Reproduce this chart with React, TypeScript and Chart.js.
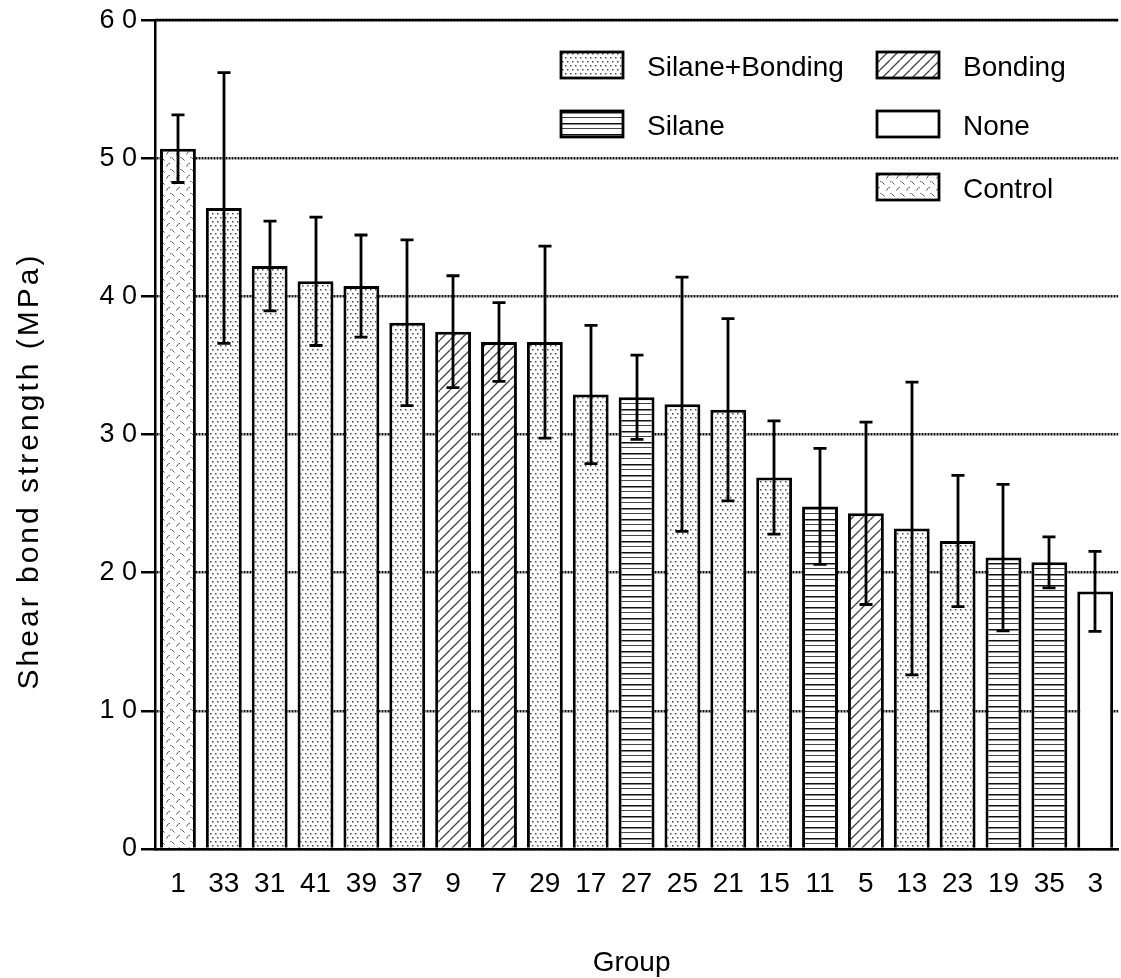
import React, { useEffect, useRef } from 'react';
import { Chart, registerables } from 'chart.js';

Chart.register(...registerables);

const groups = ['1', '33', '31', '41', '39', '37', '9', '7', '29', '17', '27', '25', '21', '15', '11', '5', '13', '23', '19', '35', '3'];
const means = [50.7, 46.4, 42.2, 41.1, 40.75, 38.1, 37.45, 36.7, 36.7, 32.9, 32.7, 32.2, 31.8, 26.9, 24.8, 24.3, 23.2, 22.3, 21.1, 20.75, 18.65];
const sds = [2.45, 9.8, 3.25, 4.65, 3.7, 6.0, 4.05, 2.85, 6.95, 5.0, 3.05, 9.2, 6.6, 4.1, 4.2, 6.6, 10.6, 4.75, 5.3, 1.85, 2.9];
const treatments = [
  'Control', 'Silane+Bonding', 'Silane+Bonding', 'Silane+Bonding', 'Silane+Bonding', 'Silane+Bonding',
  'Bonding', 'Bonding', 'Silane+Bonding', 'Silane+Bonding', 'Silane', 'Silane+Bonding', 'Silane+Bonding',
  'Silane+Bonding', 'Silane', 'Bonding', 'Silane+Bonding', 'Silane+Bonding', 'Silane', 'Silane', 'None',
];
const legendLabels = ['Silane+Bonding', 'Bonding', 'Silane', 'None', 'Control'];
const yMin = 0;
const yMax = 60;
const yStep = 10;
const yTitle = 'Shear bond strength (MPa)';
const xTitle = 'Group';

const FONT = "'Liberation Sans', Arial, Helvetica, sans-serif";

function makePattern(kind: string): CanvasPattern | string {
  if (kind === 'None') return '#ffffff';
  const c = document.createElement('canvas');
  const ctx = c.getContext('2d') as CanvasRenderingContext2D;
  if (kind === 'Silane+Bonding') {
    c.width = 5; c.height = 8;
    ctx.fillStyle = '#fff'; ctx.fillRect(0, 0, 5, 8);
    const dot = (x: number, y: number) => {
      ctx.fillStyle = '#444'; ctx.fillRect(x, y, 1, 1);
      ctx.fillStyle = '#aaa'; ctx.fillRect(x + 1, y, 1, 1); ctx.fillRect(x, y + 1, 1, 1);
      ctx.fillStyle = '#ccc'; ctx.fillRect(x + 1, y + 1, 1, 1);
    };
    dot(0, 1);
    dot(2, 5);
  } else if (kind === 'Bonding') {
    c.width = 10; c.height = 10;
    ctx.fillStyle = '#fff'; ctx.fillRect(0, 0, 10, 10);
    ctx.strokeStyle = '#444'; ctx.lineWidth = 1.3;
    for (let k = -1; k <= 1; k++) {
      ctx.beginPath();
      ctx.moveTo(k * 10, 10);
      ctx.lineTo(k * 10 + 10, 0);
      ctx.stroke();
    }
  } else if (kind === 'Silane') {
    c.width = 4; c.height = 11;
    ctx.fillStyle = '#fff'; ctx.fillRect(0, 0, 4, 11);
    ctx.fillStyle = '#111'; ctx.fillRect(0, 2, 4, 1);
    ctx.fillStyle = '#888'; ctx.fillRect(0, 3, 4, 1);
    ctx.fillStyle = '#444'; ctx.fillRect(0, 7, 4, 1);
  } else if (kind === 'Control') {
    c.width = 10; c.height = 12;
    ctx.fillStyle = '#fff'; ctx.fillRect(0, 0, 10, 12);
    ctx.strokeStyle = '#555'; ctx.lineWidth = 1;
    ctx.beginPath();
    ctx.moveTo(1.5, 1.5); ctx.lineTo(4.5, 4.5);
    ctx.stroke();
    ctx.beginPath();
    ctx.moveTo(6.5, 10.5); ctx.lineTo(8.5, 7.5);
    ctx.stroke();
    ctx.fillStyle = '#777';
    ctx.fillRect(0, 1, 1, 1);
    ctx.fillRect(9, 7, 1, 1);
  }
  return ctx.createPattern(c, 'repeat') as CanvasPattern;
}

const legendLayout = [
  { bx: 561, by: 52 },
  { bx: 877, by: 52 },
  { bx: 561, by: 111 },
  { bx: 877, by: 111 },
  { bx: 877, by: 174 },
];

export default function App() {
  const ref = useRef<HTMLCanvasElement | null>(null);

  useEffect(() => {
    document.body.style.margin = '0';
    const canvas = ref.current;
    if (!canvas) return;
    const patterns: Record<string, CanvasPattern | string> = {};
    legendLabels.forEach((l) => { patterns[l] = makePattern(l); });

    const extras = {
      id: 'extras',
      afterDatasetsDraw(chart: any) {
        const ctx = chart.ctx as CanvasRenderingContext2D;
        const yScale = chart.scales.y;
        const meta = chart.getDatasetMeta(0);
        ctx.save();
        ctx.strokeStyle = '#000';
        ctx.lineWidth = 2.8;
        meta.data.forEach((el: any, i: number) => {
          const x = Math.round(el.x);
          const yh = yScale.getPixelForValue(means[i] + sds[i]);
          const yl = yScale.getPixelForValue(means[i] - sds[i]);
          ctx.beginPath();
          ctx.moveTo(x, yh); ctx.lineTo(x, yl);
          ctx.moveTo(x - 6.5, yh); ctx.lineTo(x + 6.5, yh);
          ctx.moveTo(x - 6.5, yl); ctx.lineTo(x + 6.5, yl);
          ctx.stroke();
        });
        ctx.restore();
      },
      afterDraw(chart: any) {
        const ctx = chart.ctx as CanvasRenderingContext2D;
        const area = chart.chartArea;
        const yScale = chart.scales.y;
        ctx.save();
        const yTop = Math.round(yScale.getPixelForValue(yMax));
        ctx.strokeStyle = '#000';
        ctx.lineWidth = 2.5;
        ctx.beginPath();
        ctx.moveTo(area.left, yTop);
        ctx.lineTo(area.right, yTop);
        ctx.stroke();

        legendLabels.forEach((lab, i) => {
          const p = legendLayout[i];
          ctx.fillStyle = patterns[lab] as any;
          ctx.fillRect(p.bx, p.by, 62, 26);
          ctx.strokeStyle = '#000';
          ctx.lineWidth = 2.8;
          ctx.strokeRect(p.bx, p.by, 62, 26);
          ctx.fillStyle = '#000';
          ctx.font = `28px ${FONT}`;
          ctx.textAlign = 'left';
          ctx.textBaseline = 'alphabetic';
          ctx.fillText(lab, p.bx + 86, p.by + 24);
        });

        ctx.font = `28px ${FONT}`;
        ctx.textAlign = 'center';
        ctx.textBaseline = 'alphabetic';
        ctx.fillStyle = '#000';
        ctx.fillText(xTitle, (area.left + area.right) / 2 - 5, 971);

        ctx.translate(38, 471);
        ctx.rotate(-Math.PI / 2);
        ctx.font = `30px ${FONT}`;
        (ctx as any).letterSpacing = '3px';
        ctx.textAlign = 'center';
        ctx.textBaseline = 'alphabetic';
        ctx.fillText(yTitle, 0, 0);
        ctx.restore();
      },
    };

    const chart = new Chart(canvas, {
      type: 'bar',
      data: {
        labels: groups,
        datasets: [
          {
            label: yTitle,
            data: means,
            backgroundColor: treatments.map((t) => patterns[t]) as any,
            borderColor: '#000',
            borderWidth: 3,
            barPercentage: 36 / 46,
            categoryPercentage: 1,
          },
        ],
      },
      options: {
        responsive: false,
        animation: false,
        devicePixelRatio: 1,
        layout: { padding: { top: 19, right: 0, left: 0, bottom: 0 } },
        plugins: {
          legend: { display: false },
          tooltip: { enabled: false },
          title: { display: false },
        },
        scales: {
          x: {
            type: 'category',
            offset: true,
            grid: { display: false, drawTicks: false },
            border: { display: true, color: '#000', width: 2.5 },
            ticks: {
              color: '#000',
              font: { family: FONT, size: 28 },
              padding: 18,
              maxRotation: 0,
              autoSkip: false,
            },
            afterFit: (scale: any) => { scale.height = 129; },
          },
          y: {
            min: yMin,
            max: yMax,
            grid: {
              color: '#111',
              lineWidth: 2.5,
              drawTicks: true,
              tickLength: 14,
              tickColor: '#000',
              tickWidth: 2.5,
              tickBorderDash: [],
            },
            border: { display: true, color: '#000', width: 2.5, dash: [2, 1] },
            ticks: {
              stepSize: yStep,
              color: '#000',
              font: { family: FONT, size: 27 },
              padding: 4,
              callback: (v: any) => (Number(v) === 0 ? '0' : String(v).split('').join(' ')),
            },
            afterFit: (scale: any) => { scale.width = 155; },
          },
        },
      },
      plugins: [extras],
    });

    return () => { chart.destroy(); };
  }, []);

  return (
    <div style={{ width: 1121, height: 978 }}>
      <canvas ref={ref} width={1121} height={978} style={{ display: 'block' }} />
    </div>
  );
}
